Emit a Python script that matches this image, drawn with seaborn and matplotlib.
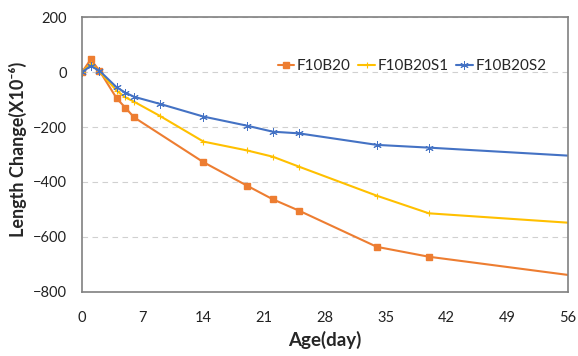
import matplotlib
matplotlib.use("Agg")
import matplotlib.pyplot as plt
import numpy as np
import pandas as pd
import seaborn as sns

# measurement ages (day) and length change (x10^-6)
DAYS_F10B20 = [0, 1, 2, 4, 5, 6, 14, 19, 22, 25, 34, 40, 56]
F10B20 = [0, 46, 5, -96, -130, -165, -328, -413, -463, -504, -636, -672, -738]

DAYS_S1 = [0, 1, 2, 4, 5, 6, 9, 14, 19, 22, 25, 34, 40, 56]
F10B20S1 = [0, 30, 2, -68, -92, -108, -160, -253, -285, -308, -344, -450, -514, -548]

DAYS_S2 = [0, 1, 2, 4, 5, 6, 9, 14, 19, 22, 25, 34, 40, 56]
F10B20S2 = [0, 22, 5, -56, -75, -90, -116, -162, -195, -217, -223, -265, -275, -304]

X_TICKS = [0, 7, 14, 21, 28, 35, 42, 49, 56]
Y_TICKS = [200, 0, -200, -400, -600, -800]

SERIES = [
    ("F10B20", DAYS_F10B20, F10B20, "#ED7D31", "s", 4.5, 1.0),
    ("F10B20S1", DAYS_S1, F10B20S1, "#FFC000", "+", 4, 0.8),
    ("F10B20S2", DAYS_S2, F10B20S2, "#4472C4", (6, 2, 0), 6, 0.7),
]


def main():
    sns.set_theme(style="white")
    plt.rcParams["font.family"] = ["Lato", "DejaVu Sans"]

    fig = plt.figure(figsize=(5.78, 3.56), dpi=100)
    ax = fig.add_axes([0.142, 0.18, 0.840, 0.772])

    for name, days, vals, color, marker, ms, mew in SERIES:
        df = pd.DataFrame({"day": days, "val": vals})
        sns.lineplot(
            data=df, x="day", y="val", ax=ax, color=color, label=name,
            marker=marker, markersize=ms, markeredgecolor=color,
            markeredgewidth=mew, linewidth=1.5, sort=False,
            markevery=list(range(len(days) - 1)),
        )

    ax.set_xlim(0, 56)
    ax.set_ylim(-800, 200)
    ax.set_xticks(X_TICKS)
    ax.set_yticks(Y_TICKS)
    ax.tick_params(axis="x", labelsize=10.5, length=0, pad=14, colors="#222222")
    ax.tick_params(axis="y", labelsize=10.5, length=0, pad=11, colors="#222222")
    ax.grid(axis="y", linestyle=(0, (5, 4)), color="#d0d0d0", linewidth=0.8)
    for sp in ax.spines.values():
        sp.set_color("#808080")
        sp.set_linewidth(1.2)

    ax.set_xlabel("Age(day)", fontsize=13.5, fontweight="bold", labelpad=4)
    ax.set_ylabel("Length Change(X10\u207b\u2076)", fontsize=13, fontweight="bold",
                  labelpad=4, y=0.52)

    ax.legend(
        loc="upper right", bbox_to_anchor=(0.975, 0.88), ncol=3, frameon=False,
        fontsize=11, handlelength=1.1, handletextpad=0.15, columnspacing=0.5,
        borderaxespad=0.2,
    )

    fig.savefig("out.png", dpi=100)
    plt.close(fig)


if __name__ == "__main__":
    main()
